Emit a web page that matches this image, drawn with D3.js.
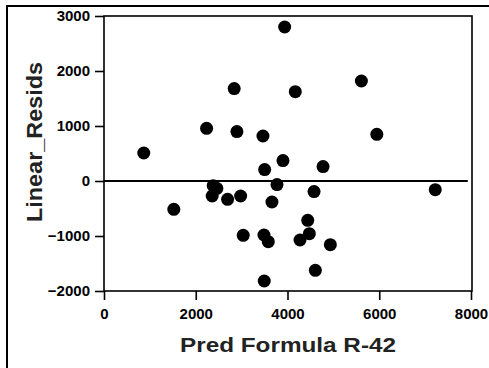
<!DOCTYPE html>
<html>
<head>
<meta charset="utf-8">
<script src="https://cdn.jsdelivr.net/npm/d3@7"></script>
<style>
  html, body { margin: 0; padding: 0; background: #fff; }
  svg { display: block; font-family: "Liberation Sans", Arial, sans-serif; }
</style>
</head>
<body>
<div id="chart"></div>
<script>
// predicted values (x) and linear residuals (y)
const predFormula = [867, 1522, 2236, 2838, 2897, 2380, 2460, 2358, 2694, 2978,
    3035, 3938, 4170, 5611, 3465, 5947, 3901, 3502, 4775, 3771,
    4579, 7221, 3661, 4441, 4476, 4273, 3487, 3581, 4934, 4607, 3493];
const linearResids = [509, -515, 958, 1680, 898, -85, -135, -273, -333, -273,
    -987, 2800, 1625, 1818, 818, 849, 371, 207, 262, -65,
    -193, -157, -382, -715, -957, -1073, -982, -1103, -1157, -1624, -1818];
const xTicks = [0, 2000, 4000, 6000, 8000];
const yTicks = [-2000, -1000, 0, 1000, 2000, 3000];

const width = 489;
const height = 368;

const x = d3.scaleLinear().domain([0, 8000]).range([104, 471]);
const y = d3.scaleLinear().domain([-2000, 3000]).range([291, 16]);

const svg = d3.select('#chart')
    .append('svg')
    .attr('width', width)
    .attr('height', height)
    .attr('viewBox', [0, 0, width, height]);

// outer border (top and left only)
svg.append('path')
    .attr('d', `M7,${height}V6H${width}`)
    .attr('fill', 'none')
    .attr('stroke', '#000')
    .attr('stroke-width', 2);

// plot frame
svg.append('rect')
    .attr('x', 104)
    .attr('y', 16)
    .attr('width', 368)
    .attr('height', 275)
    .attr('fill', 'none')
    .attr('stroke', '#000')
    .attr('stroke-width', 1.6);

const yAxis = svg.append('g')
    .attr('transform', 'translate(104,0)')
    .call(d3.axisLeft(y).tickValues(yTicks).tickSize(9).tickPadding(5).tickFormat(d3.format('d')))
    .call((g) => g.select('.domain').remove());
yAxis.selectAll('.tick line').attr('stroke-width', 1.6);
yAxis.selectAll('.tick text')
    .attr('font-size', 15)
    .attr('font-weight', 'bold')
    .attr('font-family', '"Liberation Sans", Arial, sans-serif')
    .attr('fill', '#000');

const xAxis = svg.append('g')
    .attr('transform', 'translate(0,291)')
    .call(d3.axisBottom(x).tickValues(xTicks).tickSize(9).tickPadding(8).tickFormat(d3.format('d')))
    .call((g) => g.select('.domain').remove());
xAxis.selectAll('.tick line').attr('stroke-width', 1.6);
xAxis.selectAll('.tick text')
    .attr('font-size', 15)
    .attr('font-weight', 'bold')
    .attr('font-family', '"Liberation Sans", Arial, sans-serif')
    .attr('fill', '#000');

// zero reference line
svg.append('line')
    .attr('x1', x(0))
    .attr('x2', x(7930))
    .attr('y1', y(0))
    .attr('y2', y(0))
    .attr('stroke', '#000')
    .attr('stroke-width', 1.8);

const data = predFormula.map((p, i) => ({ pred: p, resid: linearResids[i] }));

svg.append('g')
    .selectAll('circle')
    .data(data)
    .join('circle')
    .attr('cx', (d) => x(d.pred))
    .attr('cy', (d) => y(d.resid))
    .attr('r', 6.5)
    .attr('fill', '#000');

// axis titles
svg.append('text')
    .attr('x', 288)
    .attr('y', 352)
    .attr('text-anchor', 'middle')
    .attr('font-size', 21)
    .attr('font-weight', 'bold')
    .attr('textLength', 216)
    .attr('lengthAdjust', 'spacingAndGlyphs')
    .attr('fill', '#222')
    .text('Pred Formula R-42');

svg.append('text')
    .attr('transform', 'translate(42,142) rotate(-90)')
    .attr('text-anchor', 'middle')
    .attr('font-size', 22)
    .attr('font-weight', 'bold')
    .attr('textLength', 160)
    .attr('lengthAdjust', 'spacingAndGlyphs')
    .attr('fill', '#222')
    .text('Linear_Resids');
</script>
</body>
</html>
